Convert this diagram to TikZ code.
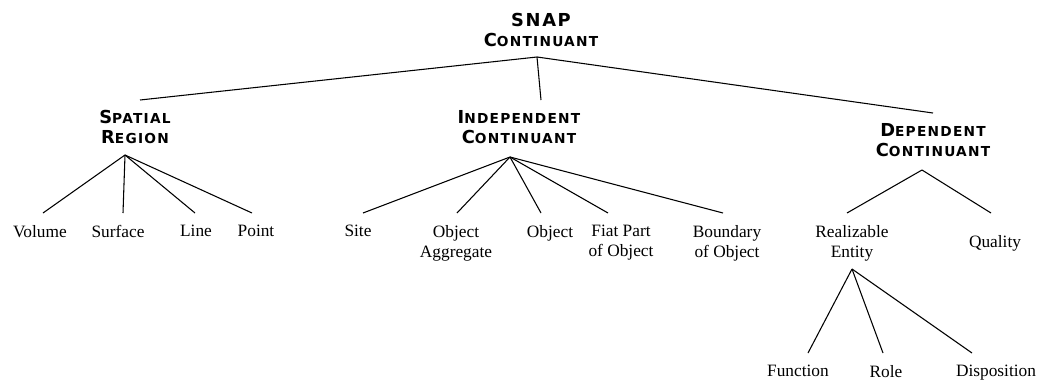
\documentclass[tikz,border=0pt]{standalone}
\usepackage{fontspec}
\setmainfont{Liberation Serif}
\newfontfamily\hdfont[LetterSpace=9]{DejaVu Sans}
\usetikzlibrary{calc,positioning}
\newcommand{\hdcaps}[2]{{\fontsize{13.4}{15}\selectfont #1}{\fontsize{10.3}{15}\selectfont #2}}
\tikzset{%
	heading/.style  = {font=\hdfont\bfseries\fontsize{13.4}{15}\selectfont, align=center, inner sep=0pt, outer ysep=7.5pt, anchor=north}, % Category
	leaf/.style     = {font=\fontsize{13}{15}\selectfont, align=center, inner sep=0pt, outer ysep=9pt, anchor=north}, % Subtype
	waypoint/.style = {coordinate}, % Joint
	branch/.style   = {line width=0.8pt},
}

\begin{document}
\begin{tikzpicture}[x=0.75pt,y=-0.75pt]
	\useasboundingbox (0,0) rectangle (1040,379);
	\node [heading] (snap) at (541,3) {SNAP\\\hdcaps{C}{ONTINUANT}};
	\node [heading] (sr) at (135,100) {\hdcaps{S}{PATIAL}\\\hdcaps{R}{EGION}};
	\node [heading] (ic) at (519,100) {\hdcaps{I}{NDEPENDENT}\\\hdcaps{C}{ONTINUANT}};
	\node [heading] (dc) at (933,113) {\hdcaps{D}{EPENDENT}\\\hdcaps{C}{ONTINUANT}};
	
	\node [waypoint] (snapj) at (537,57) {};
	\node [waypoint] (srj) at (125,155) {};
	\node [waypoint] (icj) at (510,157) {};
	\node [waypoint] (dcj) at (922,170) {};
	
	\node [leaf] (vol) at (40,213) {Volume};
	\node [leaf] (sur) at (118,213) {Surface};
	\node [leaf] (lin) at (196,213) {Line};
	\node [leaf] (pnt) at (256,213) {Point};
	
	\node [leaf] (site) at (358,213) {Site};
	\node [leaf] (oagg) at (456,213) {Object\\Aggregate};
	\node [leaf] (obj) at (550,213) {Object};
	\node [leaf] (fiat) at (621,213) {Fiat Part\\of Object};
	\node [leaf] (bnd) at (727,213) {Boundary\\of Object};
	
	\node [leaf] (real) at (852,213) {Realizable\\Entity};
	\node [leaf] (qual) at (995,223) {Quality};
	\node [waypoint] (realj) at (852,269) {};
	
	\node [leaf] (func) at (798,353) {Function};
	\node [leaf] (role) at (886,353) {Role};
	\node [leaf] (disp) at (996,353) {Disposition};
	
	\draw [branch] (snapj) -- ($(sr.north)+(5,0)$);
	\draw [branch] (snapj) -- ($(ic.north)+(22,0)$);
	\draw [branch] (snapj) -- (dc.north);
	
	\draw [branch] (srj) -- ($(vol.north)+(3,0)$);
	\draw [branch] (srj) -- ($(sur.north)+(5,0)$);
	\draw [branch] (srj) -- ($(lin.north)+(-1,0)$);
	\draw [branch] (srj) -- ($(pnt.north)+(-4,0)$);
	
	\draw [branch] (icj) -- ($(site.north)+(5,0)$);
	\draw [branch] (icj) -- ($(oagg.north)+(1,0)$);
	\draw [branch] (icj) -- ($(obj.north)+(-9,0)$);
	\draw [branch] (icj) -- ($(fiat.north)+(-13,0)$);
	\draw [branch] (icj) -- ($(bnd.north)+(-4,0)$);
	
	\draw [branch] (dcj) -- ($(real.north)+(-5,0)$);
	\draw [branch] (dcj) -- ($(qual.north)+(-4,-10)$);
	
	\draw [branch] (realj) -- ($(func.north)+(10,0)$);
	\draw [branch] (realj) -- ($(role.north)+(-3,0)$);
	\draw [branch] (realj) -- ($(disp.north)+(-24,0)$);
\end{tikzpicture}
\end{document}
